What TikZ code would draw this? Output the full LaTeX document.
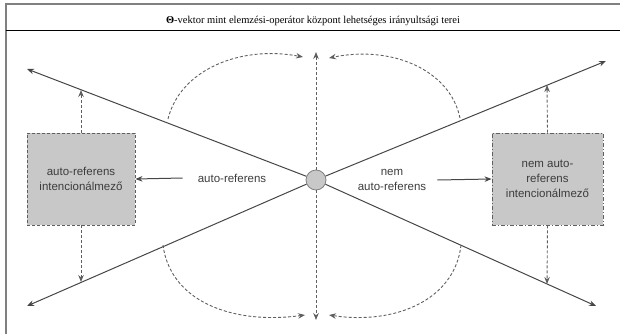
\documentclass[tikz,border=0pt]{standalone}
\usepackage{fontspec}
\setmainfont{Liberation Serif}
\newfontfamily\arialf{Liberation Sans}
\usetikzlibrary{arrows.meta}
\definecolor{boxgray}{RGB}{200,200,200}
\definecolor{linegray}{RGB}{70,70,70}
\definecolor{dashgray}{RGB}{95,95,95}
\definecolor{txtgray}{RGB}{60,60,60}
\tikzset{
  tip/.style={-{Stealth[length=7pt,width=5.5pt]}},
  solidline/.style={draw=linegray, line width=1pt, tip},
  dashline/.style={draw=dashgray, line width=0.9pt, dash pattern=on 3pt off 2pt, tip},
  fieldbox/.style={fill=boxgray, draw=dashgray, line width=0.9pt, minimum height=92pt, align=center, inner sep=0pt, font=\arialf\fontsize{11.5}{15}\selectfont, text=txtgray},
  lbl/.style={align=center, font=\arialf\fontsize{11.5}{15}\selectfont, text=txtgray, inner sep=0pt},
  hub/.style={circle, fill=boxgray, draw=gray, line width=0.8pt, minimum size=20pt, inner sep=0pt}
}
\begin{document}
\begin{tikzpicture}[x=1pt,y=-1pt]
\useasboundingbox (0,0) rectangle (620,334);
% frame
\draw[gray, line width=2pt] (620,4) -- (6,4) -- (6,334);
\draw[black, line width=1pt] (6,31) -- (620,31);
\node[font=\fontsize{10.5}{12}\selectfont, inner sep=0pt] (title) at (313,21) {\textbf{Θ}-vektor mint elemzési-operátor központ lehetséges irányultsági terei};

% nodes
\node[hub] (c) at (316,180) {};
\node[fieldbox, minimum width=108pt, dashed, dash pattern=on 3pt off 2pt] (L) at (81,179) {auto-referens\\intencionálmező};
\node[fieldbox, minimum width=111pt, dash pattern=on 4pt off 2pt on 1pt off 2pt] (R) at (547.5,179) {nem auto-\\referens\\intencionálmező};
\node[lbl] (la) at (232,178) {auto-referens};
\node[lbl] (ra) at (392,180) {nem\\auto-referens};

% coordinates
\coordinate (ul) at (27,69);
\coordinate (ur) at (606,61);
\coordinate (ll) at (27,306);
\coordinate (lr) at (596,306);
\coordinate (vt) at (316,52);
\coordinate (vb) at (316,320);
\coordinate (Lt) at (81,90);
\coordinate (Lb) at (81,282);
\coordinate (Rt) at (547,85);
\coordinate (Rb) at (547,284);
\coordinate (s1) at (168,119);
\coordinate (e1) at (303,57);
\coordinate (s2) at (460,118);
\coordinate (e2) at (329,58);
\coordinate (s3) at (163,245);
\coordinate (e3) at (305,315);
\coordinate (s4) at (461,245);
\coordinate (e4) at (329,315);

% diagonals
\draw[solidline] (c) -- (ul);
\draw[solidline] (c) -- (ur);
\draw[solidline] (c) -- (ll);
\draw[solidline] (c) -- (lr);

% vertical dashed
\draw[dashline] (c) -- (vt);
\draw[dashline] (c) -- (vb);

% box arrows
\draw[dashline] (L.north) -- (Lt);
\draw[dashline] (L.south) -- (Lb);
\draw[dashline] (R.north) -- (Rt);
\draw[dashline] (R.south) -- (Rb);

% horizontal arrows
\draw[solidline] ([xshift=-15pt]la.west) -- (L.east);
\draw[solidline] ([xshift=11pt]ra.east) -- (R.west);

% curves
\draw[dashline] (s1) .. controls (180,70) and (240,45) .. (e1);
\draw[dashline] (s2) .. controls (450,70) and (392,45) .. (e2);
\draw[dashline] (s3) .. controls (170,300) and (230,325) .. (e3);
\draw[dashline] (s4) .. controls (455,300) and (395,325) .. (e4);
\end{tikzpicture}
\end{document}
